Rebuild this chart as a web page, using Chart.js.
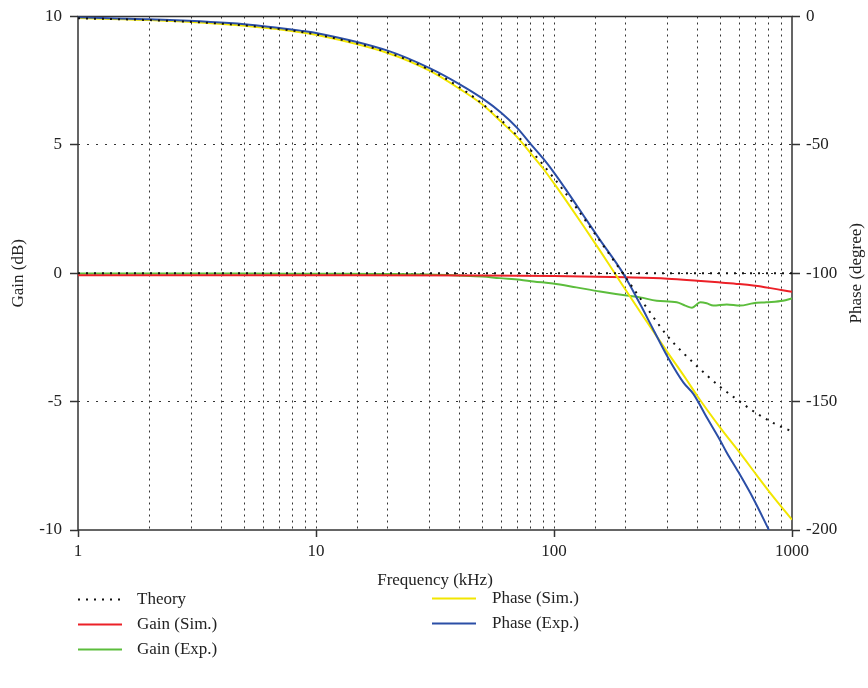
<!DOCTYPE html>
<html>
<head>
<meta charset="utf-8">
<script src="https://cdn.jsdelivr.net/npm/chart.js@4/dist/chart.umd.min.js"></script>
<style>
  body { margin: 0; background: #fff; font-family: "Liberation Serif", "DejaVu Serif", serif; }
  #wrap { position: absolute; left: 0; top: 0; width: 868px; height: 591px; }
  .legend { position: absolute; font-size: 17px; color: #222; }
  .item { position: absolute; height: 20px; white-space: nowrap; }
  .item svg { position: absolute; left: 0; top: 9px; }
  .item span { position: absolute; top: 0; line-height: 20px; }
</style>
</head>
<body>
<div id="wrap"><canvas id="chart"></canvas></div>
<div class="legend" id="legend"></div>
<script>
// frequency in kHz, gain in dB, phase in degree
let theoryFreq = [1, 2, 5, 10, 20, 30, 40, 50, 60, 70, 80, 100, 120, 150, 200, 250, 300, 400, 500, 600, 700, 800, 900, 1000];
let theoryPhase = [-0.7, -1.4, -3.5, -7.0, -14.0, -20.8, -27.5, -34.0, -40.4, -46.4, -52.2, -63.0, -72.6, -85.2, -101.6, -114.5, -124.5, -136.3, -144.3, -149.8, -154.2, -157.4, -159.8, -161.6];
let theoryGainFreq = [1, 1000];
let theoryGain = [0, 0];

let gainSimFreq = [1, 10, 50, 100, 200, 300, 400, 500, 600, 700, 800, 900, 1000];
let gainSim = [-0.08, -0.08, -0.09, -0.11, -0.16, -0.21, -0.29, -0.36, -0.42, -0.49, -0.57, -0.65, -0.72];

let gainExpFreq = [1, 5, 10, 20, 30, 40, 50, 59, 72, 82, 99, 124, 156, 202, 230, 270, 328, 356, 380, 412, 438, 467, 532, 605, 688, 780, 916, 1000];
let gainExp = [-0.01, -0.01, -0.02, -0.03, -0.05, -0.09, -0.13, -0.19, -0.25, -0.32, -0.40, -0.55, -0.71, -0.87, -0.94, -1.07, -1.13, -1.26, -1.34, -1.13, -1.17, -1.26, -1.22, -1.26, -1.17, -1.13, -1.07, -0.98];

let phaseSimFreq = [1, 2, 5, 8.6, 10, 20, 30, 40, 50, 60, 70, 80, 90, 100, 113, 133, 156, 180, 230, 300, 360, 400, 500, 600, 710, 830, 1000];
let phaseSim = [-0.6, -1.4, -3.6, -6.1, -7.1, -14.2, -21.1, -28.1, -34.3, -41.0, -47.0, -53.4, -59.2, -65.0, -72.0, -81.6, -91.2, -100.0, -115.0, -130.8, -141.4, -147.8, -160.2, -169.6, -178.6, -186.8, -196.0];

let phaseExpFreq = [1, 2, 5, 8.6, 10, 20, 30, 40, 50, 60, 70, 80, 90, 100, 113, 133, 156, 195, 230, 260, 300, 350, 385, 440, 500, 530, 590, 690, 800];
let phaseExp = [-0.3, -1.1, -3.0, -5.5, -6.4, -13.3, -20.1, -26.3, -31.9, -37.5, -43.4, -49.8, -55.3, -60.8, -67.8, -77.5, -87.0, -100.0, -112.0, -121.5, -132.5, -142.6, -147.0, -156.4, -165.2, -169.6, -176.8, -188.0, -200.0];

let gainTicks = [10, 5, 0, -5, -10];
let phaseTicks = [0, -50, -100, -150, -200];

let fontFamily = '"Liberation Serif", "DejaVu Serif", serif';
let fontSize = 17;
let textColor = '#222';

let toPoints = function(xs, ys) {
  return xs.map(function(x, i) { return {x: x, y: ys[i]}; });
};

let lineSet = function(label, xs, ys, color, axis, dash) {
  return {
    label: label,
    data: toPoints(xs, ys),
    borderColor: color,
    backgroundColor: color,
    borderWidth: 2,
    borderDash: dash || [],
    pointRadius: 0,
    fill: false,
    cubicInterpolationMode: 'monotone',
    yAxisID: axis
  };
};

let datasets = [
  lineSet('Theory', theoryFreq, theoryPhase, '#111', 'y1', [2, 6]),
  lineSet('Theory', theoryGainFreq, theoryGain, '#111', 'y', [2, 6]),
  lineSet('Phase (Exp.)', phaseExpFreq, phaseExp, '#2b4ea6', 'y1'),
  lineSet('Phase (Sim.)', phaseSimFreq, phaseSim, '#f2e600', 'y1'),
  lineSet('Gain (Sim.)', gainSimFreq, gainSim, '#ec2027', 'y'),
  lineSet('Gain (Exp.)', gainExpFreq, gainExp, '#5cbd3c', 'y')
];

let isMajor = function(v) {
  let l = Math.log10(v);
  return Math.abs(l - Math.round(l)) < 1e-9;
};

// box around plot + right axis title
let framePlugin = {
  id: 'frame',
  beforeDatasetsDraw: function(chart) {
    let a = chart.chartArea, ctx = chart.ctx;
    ctx.save();
    ctx.strokeStyle = '#333';
    ctx.lineWidth = 1.5;
    ctx.strokeRect(a.left, a.top, a.right - a.left, a.bottom - a.top);
    ctx.restore();
  },
  afterDraw: function(chart) {
    let a = chart.chartArea, ctx = chart.ctx;
    ctx.save();
    ctx.translate(857, (a.top + a.bottom) / 2);
    ctx.rotate(-Math.PI / 2);
    ctx.font = fontSize + 'px ' + fontFamily;
    ctx.fillStyle = textColor;
    ctx.textAlign = 'center';
    ctx.textBaseline = 'middle';
    ctx.fillText('Phase (degree)', 0, 0);
    ctx.restore();
  }
};

new Chart(document.getElementById('chart'), {
  type: 'line',
  data: { datasets: datasets },
  plugins: [framePlugin],
  options: {
    responsive: true,
    maintainAspectRatio: false,
    animation: false,
    layout: { padding: { left: 8, top: 15, right: 0, bottom: 0 } },
    plugins: { legend: { display: false }, tooltip: { enabled: false } },
    scales: {
      x: {
        type: 'logarithmic',
        min: 1,
        max: 1000,
        afterFit: function(s) { s.height = 61; },
        border: { display: false, dash: [2, 4] },
        grid: {
          color: function(c) { return (c.tick && (c.tick.value == 1 || c.tick.value == 1000)) ? 'rgba(0,0,0,0)' : '#333'; },
          tickColor: function(c) { return (c.tick && isMajor(c.tick.value)) ? '#333' : 'rgba(0,0,0,0)'; },
          lineWidth: 1,
          tickLength: 7,
          tickWidth: 1.5,
          tickBorderDash: []
        },
        ticks: {
          autoSkip: false,
          maxRotation: 0,
          padding: 4,
          color: textColor,
          font: { family: fontFamily, size: fontSize },
          callback: function(v) { return isMajor(v) ? String(Math.round(v)) : ''; }
        },
        title: { display: true, text: 'Frequency (kHz)', color: textColor, padding: 0, font: { family: fontFamily, size: fontSize } }
      },
      y: {
        position: 'left',
        min: -10,
        max: 10,
        afterFit: function(s) { s.width = 70; },
        afterBuildTicks: function(s) { s.ticks = gainTicks.map(function(v) { return {value: v}; }); },
        border: { display: false, dash: [2, 7] },
        grid: {
          color: function(c) { return (c.tick && Math.abs(c.tick.value) == 10) ? 'rgba(0,0,0,0)' : '#333'; },
          tickColor: '#333',
          tickLength: 8,
          tickWidth: 1.5,
          lineWidth: 1,
          tickBorderDash: []
        },
        ticks: { padding: 8, color: textColor, font: { family: fontFamily, size: fontSize, lineHeight: 1 } },
        title: { display: true, text: 'Gain (dB)', color: textColor, padding: 0, font: { family: fontFamily, size: fontSize } }
      },
      y1: {
        position: 'right',
        min: -200,
        max: 0,
        afterFit: function(s) { s.width = 76; },
        afterBuildTicks: function(s) { s.ticks = phaseTicks.map(function(v) { return {value: v}; }); },
        border: { display: false },
        grid: {
          drawOnChartArea: false,
          tickColor: '#333',
          tickLength: 8,
          tickWidth: 1.5
        },
        ticks: { padding: 6, color: textColor, font: { family: fontFamily, size: fontSize, lineHeight: 1 } }
      }
    }
  }
});

// legend in two columns like the figure
let legendItems = [
  { label: 'Theory', color: '#111', dash: '2 6', left: 78, top: 589 },
  { label: 'Gain (Sim.)', color: '#ec2027', dash: '', left: 78, top: 614 },
  { label: 'Gain (Exp.)', color: '#5cbd3c', dash: '', left: 78, top: 639 },
  { label: 'Phase (Sim.)', color: '#f2e600', dash: '', left: 432, top: 588 },
  { label: 'Phase (Exp.)', color: '#2b4ea6', dash: '', left: 432, top: 613 }
];
let legendHtml = '';
legendItems.forEach(function(it) {
  legendHtml += '<div class="item" style="left:' + it.left + 'px;top:' + it.top + 'px">' +
    '<svg width="46" height="3"><line x1="0" y1="1.5" x2="44" y2="1.5" stroke="' + it.color + '" stroke-width="2"' +
    (it.dash ? ' stroke-dasharray="' + it.dash + '"' : '') + '/></svg>' +
    '<span style="left:' + (it.left == 78 ? 59 : 60) + 'px">' + it.label + '</span></div>';
});
document.getElementById('legend').innerHTML = legendHtml;
</script>
</body>
</html>
